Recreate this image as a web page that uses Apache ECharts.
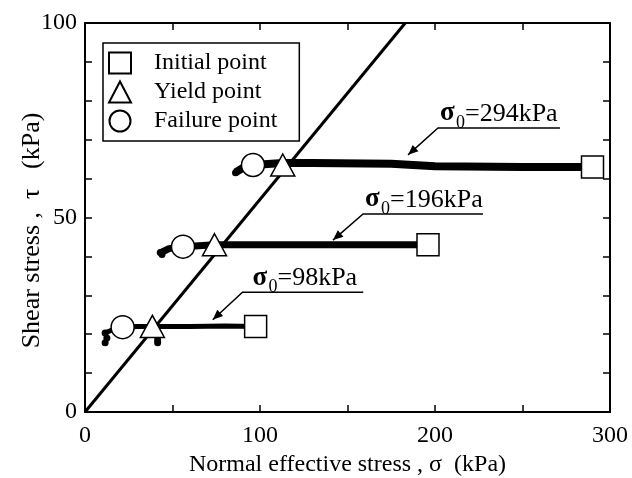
<!DOCTYPE html>
<html><head><meta charset="utf-8">
<script src="https://cdn.jsdelivr.net/npm/echarts@6/dist/echarts.min.js"></script>
<style>html,body{margin:0;padding:0;background:#fff}#c{width:632px;height:478px}</style>
</head><body><div id="c"></div>
<script>
// ---- data (kPa) ----
const xTicks = [0, 100, 200, 300];
const yTicks = [0, 50, 100];
const failureLine = [[0, 0], [183, 100]];
const path98  = [[97, 22], [80, 22.1], [60, 22], [40, 22], [30, 22], [21.5, 21.8], [15, 21], [11.5, 20.3]];
const dots98  = [[11.5, 20.3], [11.5, 17.8], [12.5, 19], [41.5, 18.5], [41.5, 17.8]];
const path196 = [[196, 43], [150, 43], [100, 43], [74, 43], [56, 42.5], [48, 42], [43.5, 41]];
const dots196 = [[43, 41], [44, 40.5]];
const path294 = [[290, 63], [250, 63], [200, 63.2], [175, 63.8], [130, 64], [113, 64], [96, 63.5], [90, 62.7], [86, 61.6]];
const dots294 = [[86, 61.5]];
const initialPts = [[97.5, 22], [196, 43], [290, 63]];
const yieldPts   = [[38.5, 22], [74, 43], [113, 63.5]];
const failurePts = [[21.5, 21.8], [56, 42.5], [96, 63.5]];
const annoLabels = ['98', '196', '294'];
// arrow tip, elbow, underline end (data coords)
const annoTip   = [[73, 23.7], [141.7, 44.2], [184.6, 66.1]];
const annoElbow = [[90, 30.8], [158.9, 50.9], [201.7, 73]];
const annoEnd   = [[159, 30.8], [227.4, 50.9], [271.4, 73]];

const FONT = 'Liberation Serif';
const chart = echarts.init(document.getElementById('c'));

function pathSeries(d, w) {
  return { type: 'line', data: d, symbol: 'none', lineStyle: { color: '#000', width: w, opacity: 1 }, z: 3, silent: true };
}
function dotSeries(d) {
  return { type: 'scatter', data: d, symbol: 'circle', symbolSize: 7, itemStyle: { color: '#000', opacity: 1 }, z: 3, silent: true };
}
const mk = { color: '#fff', borderColor: '#000', borderWidth: 1.5, opacity: 1 };

chart.setOption({
  animation: false,
  grid: { left: 85, right: 22, top: 23, bottom: 66, containLabel: false, outerBoundsMode: 'none' },
  legend: {
    orient: 'vertical', left: 103, top: 43,
    data: ['Initial point', 'Yield point', 'Failure point'],
    borderColor: '#000', borderWidth: 1.5, borderRadius: 0,
    padding: [8, 22, 8, 5], itemGap: 5, itemWidth: 22, itemHeight: 21,
    formatter: n => '   ' + n,
    textStyle: { fontFamily: FONT, fontSize: 24, color: '#000' },
    selectedMode: false
  },
  xAxis: [{
    type: 'value', min: 0, max: 300, interval: 50,
    name: 'Normal effective stress , σ  (kPa)', nameLocation: 'middle', nameGap: 38,
    nameTextStyle: { fontFamily: FONT, fontSize: 24, color: '#000' },
    axisLine: { show: true, onZero: false, lineStyle: { color: '#000', width: 2 } },
    axisTick: { show: true, inside: true, length: 7, lineStyle: { color: '#000', width: 1.5 } },
    axisLabel: { margin: 12, fontFamily: FONT, fontSize: 24, color: '#000',
      formatter: v => xTicks.includes(v) ? String(v) : '' },
    splitLine: { show: false }
  }, {
    type: 'value', min: 0, max: 300, interval: 50, position: 'top',
    axisLine: { show: true, onZero: false, lineStyle: { color: '#000', width: 2 } },
    axisTick: { show: true, inside: true, length: 7, lineStyle: { color: '#000', width: 1.5 } },
    axisLabel: { show: false }, splitLine: { show: false }
  }],
  yAxis: [{
    type: 'value', min: 0, max: 100, interval: 10,
    name: 'Shear stress ,  τ   (kPa)    ', nameLocation: 'middle', nameGap: 40, nameMoveOverlap: false,
    nameTextStyle: { fontFamily: FONT, fontSize: 26, color: '#000' },
    axisLine: { show: true, onZero: false, lineStyle: { color: '#000', width: 2 } },
    axisTick: { show: true, inside: true, length: 7, lineStyle: { color: '#000', width: 1.5 } },
    axisLabel: { margin: 8, fontFamily: FONT, fontSize: 24, color: '#000',
      formatter: v => yTicks.includes(v) ? String(v) : '' },
    splitLine: { show: false }
  }, {
    type: 'value', min: 0, max: 100, interval: 10, position: 'right',
    axisLine: { show: true, onZero: false, lineStyle: { color: '#000', width: 2 } },
    axisTick: { show: true, inside: true, length: 7, lineStyle: { color: '#000', width: 1.5 } },
    axisLabel: { show: false }, splitLine: { show: false }
  }],
  series: [
    { type: 'line', data: failureLine, symbol: 'none', lineStyle: { color: '#000', width: 3 }, z: 2, silent: true },
    pathSeries(path98, 5), pathSeries(path196, 7), pathSeries(path294, 8),
    dotSeries(dots98), dotSeries(dots196), dotSeries(dots294),
    { name: 'Initial point', type: 'scatter', data: initialPts, symbol: 'rect', symbolSize: 22, itemStyle: mk, z: 5 },
    { name: 'Yield point', type: 'scatter', data: yieldPts, symbol: 'triangle', symbolSize: [24, 22], itemStyle: mk, z: 5 },
    { name: 'Failure point', type: 'scatter', data: failurePts, symbol: 'circle', symbolSize: 23, itemStyle: mk, z: 6 }
  ]
});

// annotations
const g = [];
annoLabels.forEach((lab, i) => {
  const tip = chart.convertToPixel({ gridIndex: 0 }, annoTip[i]);
  const el = chart.convertToPixel({ gridIndex: 0 }, annoElbow[i]);
  const en = chart.convertToPixel({ gridIndex: 0 }, annoEnd[i]);
  g.push({ type: 'polyline', shape: { points: [tip, el, en] }, style: { stroke: '#000', lineWidth: 1.5, fill: null }, z: 10 });
  const ang = Math.atan2(el[1] - tip[1], el[0] - tip[0]);
  const L = 11, W = 0.4;
  g.push({ type: 'polygon', shape: { points: [tip,
    [tip[0] + L * Math.cos(ang + W), tip[1] + L * Math.sin(ang + W)],
    [tip[0] + L * Math.cos(ang - W), tip[1] + L * Math.sin(ang - W)]] }, style: { fill: '#000' }, z: 10 });
  const tx = el[0] + (i === 0 ? 10 : 2), ty = el[1] - 1;
  g.push({ type: 'text', x: tx, y: ty, style: { text: 'σ', font: 'bold 27px "Liberation Serif"', fill: '#000', textVerticalAlign: 'bottom' }, z: 10 });
  g.push({ type: 'text', x: tx + 16, y: ty + 5, style: { text: '0', font: '18px "Liberation Serif"', fill: '#000', textVerticalAlign: 'bottom' }, z: 10 });
  g.push({ type: 'text', x: tx + 25, y: ty, style: { text: '=' + lab + 'kPa', font: '26px "Liberation Serif"', fill: '#000', textVerticalAlign: 'bottom' }, z: 10 });
});
chart.setOption({ graphic: g });
</script></body></html>
